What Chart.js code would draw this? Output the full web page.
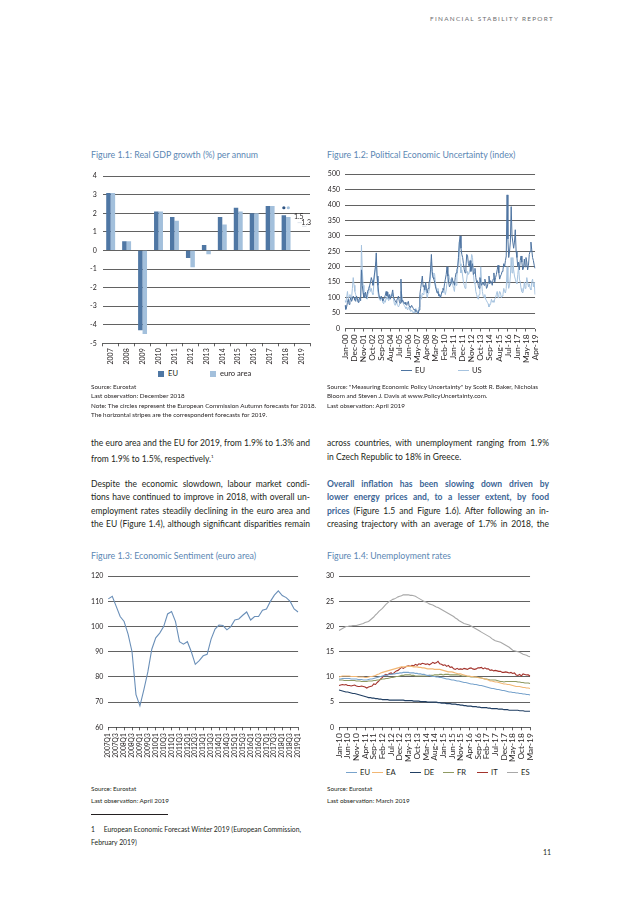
<!DOCTYPE html>
<html>
<head>
<meta charset="utf-8">
<title>Financial Stability Report - p. 11</title>
<script src="https://cdn.jsdelivr.net/npm/chart.js@4.4.1/dist/chart.umd.min.js"></script>
<style>
  html, body { margin: 0; padding: 0; background: #fff; }
  body { width: 638px; height: 903px; position: relative; overflow: hidden;
         font-family: Lato, 'Open Sans', sans-serif; color: #231f20; }
  .abs { position: absolute; white-space: nowrap; }
  .hdr { top: 15px; left: 400px; width: 154px; text-align: right; font-size: 6.4px; letter-spacing: 1.3px; color: #6d6e71; }
  .ttl { font-size: 8.8px; line-height: 12px; color: #5b87b4; }
  .src { font-size: 6.3px; line-height: 9.5px; }
  .ln { position: absolute; font-size: 8.5px; line-height: 10px; height: 10px; text-align: justify; text-align-last: justify; white-space: normal; overflow: visible; }
  .ln.last { text-align-last: left; }
  .blue { color: #3b6596; font-weight: 700; }
  .chart { position: absolute; }
  .leg { position: absolute; font-size: 7.6px; line-height: 10px; height: 10px; white-space: nowrap; }
  .sw { display: inline-block; vertical-align: middle; margin-right: 4px; }
  .sw.box { width: 6px; height: 6px; }
  .sw.line { width: 11px; height: 0; border-top: 1.4px solid; margin-top: -1px; margin-right: 3px; }
  .rule { position: absolute; left: 91px; top: 814px; width: 77px; border-top: 0.8px solid #231f20; }
</style>
</head>
<body>

<div class="abs hdr">FINANCIAL STABILITY REPORT</div>

<!-- figure titles -->
<div class="abs ttl" style="left:91px;top:149px;">Figure 1.1: Real GDP growth (%) per annum</div>
<div class="abs ttl" style="left:327px;top:149px;">Figure 1.2: Political Economic Uncertainty (index)</div>
<div class="abs ttl" style="left:91px;top:550px;">Figure 1.3: Economic Sentiment (euro area)</div>
<div class="abs ttl" style="left:327px;top:550px;">Figure 1.4: Unemployment rates</div>

<div class="chart" style="left:80px;top:166px;width:234px;height:200px;"><canvas id="gdpChart"></canvas></div>
<div class="chart" style="left:326px;top:165px;width:222px;height:200px;"><canvas id="epuChart"></canvas></div>
<div class="chart" style="left:84px;top:567px;width:225px;height:195px;"><canvas id="esiChart"></canvas></div>
<div class="chart" style="left:324px;top:567px;width:219px;height:195px;"><canvas id="unempChart"></canvas></div>

<!-- legends -->
<div class="leg" style="left:158px;top:368px;"><span class="sw box" style="background:#4f77a4"></span>EU</div>
<div class="leg" style="left:210px;top:368px;"><span class="sw box" style="background:#a3c0dc"></span>euro area</div>

<div class="leg" style="left:401px;top:365px;"><span class="sw line" style="border-color:#4e74a1"></span>EU</div>
<div class="leg" style="left:458px;top:365px;"><span class="sw line" style="border-color:#a6c3df"></span>US</div>

<div id="unempLegend"></div>

<!-- sources -->
<div class="abs src" style="left:91px;top:381.5px;">Source: Eurostat<br>Last observation: December 2018<br>Note: The circles represent the European Commission Autumn forecasts for 2018.<br>The horizontal stripes are the correspondent forecasts for 2019.</div>
<div class="abs src" style="left:327px;top:381.5px;">Source: "Measuring Economic Policy Uncertainty" by Scott R. Baker, Nicholas<br>Bloom and Steven J. Davis at www.PolicyUncertainty.com.<br>Last observation: April 2019</div>

<!-- body text, left column -->
<div class="ln" style="left:91px;top:438px;width:219px;">the euro area and the EU for 2019, from 1.9% to 1.3% and</div>
<div class="ln last" style="left:91px;top:451.5px;width:219px;">from 1.9% to 1.5%, respectively.<sup style="font-size:4.5px">1</sup></div>
<div class="ln" style="left:91px;top:478.5px;width:219px;">Despite the economic slowdown, labour market condi-</div>
<div class="ln" style="left:91px;top:492px;width:219px;">tions have continued to improve in 2018, with overall un-</div>
<div class="ln" style="left:91px;top:505.5px;width:219px;">employment rates steadily declining in the euro area and</div>
<div class="ln" style="left:91px;top:519px;width:219px;">the EU (Figure 1.4), although significant disparities remain</div>

<!-- body text, right column -->
<div class="ln" style="left:327px;top:438px;width:222px;">across countries, with unemployment ranging from 1.9%</div>
<div class="ln last" style="left:327px;top:451.5px;width:222px;">in Czech Republic to 18% in Greece.</div>
<div class="ln blue" style="left:327px;top:478.5px;width:222px;">Overall inflation has been slowing down driven by</div>
<div class="ln blue" style="left:327px;top:492px;width:222px;">lower energy prices and, to a lesser extent, by food</div>
<div class="ln" style="left:327px;top:505.5px;width:222px;"><span class="blue">prices</span> (Figure 1.5 and Figure 1.6). After following an in-</div>
<div class="ln" style="left:327px;top:519px;width:222px;">creasing trajectory with an average of 1.7% in 2018, the</div>

<div class="abs src" style="left:91px;top:783px;line-height:12px;">Source: Eurostat<br>Last observation: April 2019</div>
<div class="abs src" style="left:327px;top:783px;line-height:12px;">Source: Eurostat<br>Last observation: March 2019</div>

<div class="rule"></div>
<div class="abs" style="left:91px;top:823px;font-size:6.8px;line-height:12.5px;">1&nbsp;&nbsp;&nbsp;&nbsp;&nbsp;European Economic Forecast Winter 2019 (European Commission,<br>February 2019)</div>

<div class="abs" style="left:543px;top:848px;font-size:7px;">11</div>

<script>
// ---------- Figure 1.1: real GDP growth ----------
const gdpYears = ['2007', '2008', '2009', '2010', '2011', '2012', '2013', '2014', '2015', '2016', '2017', '2018', '2019'];
const gdpEU = [3.1, 0.5, -4.3, 2.1, 1.8, -0.4, 0.3, 1.8, 2.3, 2.0, 2.4, 1.9, null];
const gdpEA = [3.1, 0.5, -4.5, 2.1, 1.6, -0.9, -0.2, 1.4, 2.1, 2.0, 2.4, 1.8, null];
// Commission forecasts: circles for 2018, horizontal stripes for 2019
const forecastYears = ['2018', '2019'];
const forecastEU = [2.3, 1.5];
const forecastEA = [2.3, 1.3];
const gdpTicks = [4, 3, 2, 1, 0, -1, -2, -3, -4, -5];

// ---------- Figure 1.2: economic policy uncertainty, Jan-00 .. Apr-19 ----------
const epuEU = [
  75, 62, 70, 85, 95, 78, 90, 100, 88, 95, 105, 100,
  92, 88, 105, 98, 85, 95, 100, 90, 190, 140, 115, 100,
  105, 118, 98, 112, 125, 130, 140, 150, 165, 155, 140, 160,
  180, 200, 245, 170, 140, 115, 100, 95, 105, 98, 90, 95,
  100, 108, 120, 105, 118, 98, 110, 95, 105, 112, 125, 100,
  95, 90, 85, 92, 98, 105, 88, 82, 160, 85, 92, 88,
  80, 85, 78, 75, 82, 88, 72, 70, 68, 75, 70, 65,
  60, 62, 55, 58, 50, 48, 60, 110, 130, 150, 170, 135,
  140, 125, 150, 130, 115, 130, 145, 160, 190, 240, 185, 165,
  160, 150, 135, 125, 115, 120, 105, 110, 100, 110, 120, 130,
  125, 145, 160, 175, 200, 170, 150, 135, 140, 150, 165, 155,
  150, 140, 165, 180, 190, 200, 230, 280, 300, 260, 240, 230,
  210, 190, 180, 200, 240, 235, 210, 200, 220, 185, 200, 210,
  175, 180, 195, 165, 150, 155, 140, 130, 165, 150, 140, 145,
  150, 140, 160, 150, 130, 135, 150, 170, 145, 155, 150, 140,
  160, 180, 150, 165, 175, 190, 205, 180, 160, 170, 175, 185,
  190, 210, 200, 220, 235, 433, 290, 230, 250, 280, 395, 300,
  300, 260, 280, 320, 250, 230, 200, 215, 190, 220, 235, 215,
  190, 195, 225, 200, 230, 215, 190, 205, 240, 250, 280, 255,
  230, 220, 205, 195
];
const epuUS = [
  90, 85, 100, 120, 95, 105, 110, 95, 100, 130, 165, 140,
  120, 110, 100, 95, 85, 90, 100, 105, 270, 190, 140, 115,
  110, 105, 100, 95, 115, 130, 140, 120, 130, 115, 110, 140,
  170, 200, 215, 160, 120, 100, 95, 90, 100, 95, 85, 80,
  90, 85, 100, 95, 105, 90, 95, 100, 110, 105, 115, 95,
  80, 75, 85, 80, 75, 70, 75, 90, 120, 110, 90, 80,
  75, 70, 65, 70, 60, 65, 70, 60, 55, 60, 55, 50,
  55, 50, 65, 60, 55, 52, 70, 100, 110, 95, 115, 110,
  130, 120, 140, 110, 100, 115, 120, 135, 170, 215, 175, 165,
  180, 175, 145, 130, 120, 130, 115, 105, 100, 110, 120, 115,
  130, 120, 110, 125, 150, 160, 175, 165, 150, 160, 145, 140,
  130, 120, 150, 140, 170, 190, 240, 280, 210, 180, 190, 170,
  150, 140, 130, 145, 160, 185, 175, 180, 200, 215, 240, 230,
  180, 150, 145, 120, 110, 100, 95, 110, 140, 200, 150, 120,
  105, 100, 110, 95, 90, 85, 80, 70, 75, 80, 95, 85,
  90, 85, 95, 100, 110, 120, 100, 110, 120, 115, 100, 105,
  110, 130, 120, 115, 130, 200, 150, 130, 140, 170, 230, 180,
  230, 190, 170, 160, 150, 145, 175, 200, 160, 150, 130, 120,
  115, 125, 150, 130, 140, 165, 150, 135, 145, 130, 125, 150,
  160, 135, 150, 110
];

// ---------- Figure 1.3: economic sentiment, 2007Q1 .. 2019Q1 ----------
const esiValues = [
  111, 112, 108, 104, 102, 97, 90, 73, 68.5, 75, 82, 91, 95.5,
  97.4, 100, 105, 106, 102, 94, 93, 94, 90, 85, 86.5, 88.4,
  89, 95, 99, 100.6, 100.4, 98.7, 100, 102.6, 103, 104.5, 105.8,
  102.6, 104, 104, 106.5, 107, 110, 112.5, 114.2, 112.3, 111.5, 110, 107, 105.8
];

// ---------- Figure 1.4: unemployment rates, Jan-10 .. Mar-19 ----------
const unEU = [
  9.6, 9.6, 9.7, 9.7, 9.7, 9.7, 9.7, 9.6, 9.6, 9.6, 9.6, 9.5,
  9.5, 9.5, 9.4, 9.4, 9.4, 9.5, 9.6, 9.6, 9.7, 9.8, 9.9, 10.0,
  10.1, 10.2, 10.3, 10.3, 10.4, 10.5, 10.5, 10.6, 10.6, 10.7, 10.7, 10.8,
  10.8, 10.9, 10.9, 10.9, 10.9, 10.8, 10.8, 10.8, 10.7, 10.7, 10.6, 10.6,
  10.5, 10.5, 10.4, 10.3, 10.3, 10.2, 10.1, 10.1, 10.0, 10.0, 9.9, 9.9,
  9.8, 9.7, 9.6, 9.6, 9.5, 9.4, 9.4, 9.3, 9.2, 9.2, 9.1, 9.0,
  8.9, 8.9, 8.8, 8.7, 8.6, 8.6, 8.5, 8.5, 8.4, 8.3, 8.3, 8.2,
  8.1, 8.0, 7.9, 7.8, 7.7, 7.7, 7.6, 7.5, 7.5, 7.4, 7.3, 7.3,
  7.2, 7.1, 7.0, 7.0, 6.9, 6.9, 6.8, 6.8, 6.7, 6.7, 6.6, 6.6,
  6.5, 6.5, 6.4
];
const unEA = [
  10.0, 10.1, 10.2, 10.2, 10.2, 10.2, 10.2, 10.1, 10.1, 10.1, 10.1, 10.0,
  10.0, 10.0, 10.0, 9.9, 9.9, 10.0, 10.1, 10.1, 10.2, 10.3, 10.5, 10.6,
  10.8, 10.9, 11.0, 11.1, 11.2, 11.3, 11.4, 11.5, 11.6, 11.7, 11.8, 11.9,
  12.0, 12.0, 12.0, 12.1, 12.1, 12.1, 12.1, 12.0, 12.0, 12.0, 11.9, 11.9,
  11.8, 11.8, 11.7, 11.6, 11.6, 11.6, 11.6, 11.5, 11.5, 11.5, 11.5, 11.4,
  11.3, 11.2, 11.1, 11.0, 11.0, 11.0, 10.9, 10.8, 10.7, 10.6, 10.6, 10.5,
  10.4, 10.3, 10.2, 10.2, 10.1, 10.1, 10.0, 10.0, 9.9, 9.8, 9.8, 9.7,
  9.6, 9.5, 9.4, 9.2, 9.2, 9.1, 9.0, 9.0, 8.9, 8.8, 8.7, 8.6,
  8.6, 8.5, 8.5, 8.4, 8.3, 8.2, 8.1, 8.1, 8.1, 8.0, 7.9, 7.9,
  7.8, 7.8, 7.7
];
const unDE = [
  7.4, 7.3, 7.2, 7.1, 7.0, 7.0, 6.9, 6.8, 6.7, 6.7, 6.6, 6.5,
  6.4, 6.3, 6.2, 6.1, 6.0, 5.9, 5.9, 5.8, 5.8, 5.7, 5.7, 5.6,
  5.6, 5.5, 5.5, 5.5, 5.5, 5.4, 5.4, 5.4, 5.4, 5.4, 5.4, 5.4,
  5.4, 5.4, 5.3, 5.3, 5.3, 5.3, 5.3, 5.2, 5.2, 5.2, 5.2, 5.1,
  5.1, 5.1, 5.1, 5.0, 5.0, 5.0, 5.0, 5.0, 5.0, 4.9, 4.9, 4.8,
  4.8, 4.8, 4.7, 4.7, 4.7, 4.6, 4.6, 4.6, 4.5, 4.5, 4.4, 4.4,
  4.3, 4.3, 4.2, 4.2, 4.2, 4.1, 4.1, 4.1, 4.0, 4.0, 3.9, 3.9,
  3.9, 3.9, 3.8, 3.8, 3.7, 3.7, 3.7, 3.7, 3.6, 3.6, 3.6, 3.5,
  3.5, 3.5, 3.4, 3.4, 3.4, 3.4, 3.4, 3.4, 3.3, 3.3, 3.3, 3.2,
  3.2, 3.2, 3.2
];
const unFR = [
  9.4, 9.4, 9.4, 9.3, 9.3, 9.3, 9.3, 9.3, 9.3, 9.3, 9.2, 9.2,
  9.2, 9.1, 9.1, 9.1, 9.1, 9.2, 9.2, 9.2, 9.3, 9.3, 9.4, 9.4,
  9.5, 9.6, 9.6, 9.7, 9.7, 9.8, 9.9, 9.9, 10.0, 10.1, 10.1, 10.2,
  10.3, 10.3, 10.4, 10.4, 10.4, 10.4, 10.3, 10.3, 10.2, 10.2, 10.2, 10.2,
  10.2, 10.2, 10.2, 10.2, 10.3, 10.3, 10.3, 10.4, 10.4, 10.4, 10.5, 10.5,
  10.4, 10.5, 10.5, 10.5, 10.4, 10.4, 10.4, 10.4, 10.4, 10.4, 10.3, 10.2,
  10.2, 10.2, 10.1, 10.1, 10.0, 10.0, 10.0, 10.0, 9.9, 9.9, 9.8, 9.7,
  9.6, 9.6, 9.5, 9.4, 9.4, 9.4, 9.4, 9.3, 9.2, 9.1, 9.1, 9.0,
  9.1, 9.1, 9.1, 9.1, 9.1, 9.1, 9.1, 9.0, 9.0, 8.9, 8.9, 8.8,
  8.8, 8.8, 8.7
];
const unIT = [
  8.3, 8.4, 8.5, 8.4, 8.5, 8.3, 8.3, 8.2, 8.3, 8.4, 8.2, 8.1,
  8.1, 8.2, 8.1, 8.0, 7.8, 8.0, 8.1, 8.2, 8.6, 8.5, 8.9, 9.2,
  9.6, 9.9, 10.3, 10.5, 10.4, 10.7, 10.8, 10.6, 10.9, 11.2, 11.3, 11.6,
  11.9, 11.7, 11.9, 12.1, 12.2, 12.1, 12.3, 12.2, 12.5, 12.3, 12.6, 12.5,
  12.7, 12.6, 12.5, 12.6, 12.4, 12.6, 12.9, 12.7, 12.8, 13.1, 12.6, 12.5,
  12.3, 12.4, 12.1, 12.3, 11.9, 12.0, 11.6, 11.5, 11.7, 11.5, 11.6, 11.5,
  11.7, 11.6, 11.5, 11.7, 11.8, 11.6, 11.5, 11.6, 11.8, 11.8, 11.9, 11.6,
  11.8, 11.6, 11.6, 11.3, 11.4, 11.2, 11.3, 11.2, 11.1, 11.1, 10.9, 10.9,
  11.0, 10.9, 10.8, 10.9, 10.7, 10.8, 10.4, 10.3, 10.5, 10.2, 10.6, 10.5,
  10.4, 10.4, 10.2
];
const unES = [
  19.2, 19.4, 19.6, 19.8, 20.0, 20.0, 20.1, 20.1, 20.2, 20.2, 20.2, 20.3,
  20.4, 20.5, 20.6, 20.8, 20.9, 21.0, 21.3, 21.6, 21.9, 22.3, 22.6, 23.0,
  23.3, 23.6, 24.0, 24.4, 24.7, 25.0, 25.2, 25.4, 25.5, 25.7, 25.9, 26.0,
  26.1, 26.3, 26.3, 26.3, 26.3, 26.2, 26.2, 26.1, 26.0, 25.8, 25.6, 25.4,
  25.2, 25.0, 24.9, 24.7, 24.5, 24.4, 24.3, 24.1, 23.9, 23.8, 23.6, 23.4,
  23.2, 23.0, 22.8, 22.6, 22.4, 22.2, 22.0, 21.7, 21.5, 21.2, 21.0, 20.8,
  20.6, 20.5, 20.4, 20.3, 20.1, 19.9, 19.7, 19.5, 19.3, 19.1, 18.9, 18.7,
  18.5, 18.3, 18.1, 17.9, 17.6, 17.4, 17.2, 17.1, 17.0, 16.9, 16.7, 16.5,
  16.3, 16.1, 15.9, 15.6, 15.3, 15.2, 15.1, 15.0, 14.9, 14.7, 14.5, 14.4,
  14.3, 14.1, 14.0
];
const unSeries = [
  { label: 'EU', data: unEU, color: '#78a3cc' },
  { label: 'EA', data: unEA, color: '#f2b774' },
  { label: 'DE', data: unDE, color: '#213f63' },
  { label: 'FR', data: unFR, color: '#8f9a62' },
  { label: 'IT', data: unIT, color: '#a3332c' },
  { label: 'ES', data: unES, color: '#a8a8a8' }
];

// category labels
const MONTHS = ['Jan', 'Feb', 'Mar', 'Apr', 'May', 'Jun', 'Jul', 'Aug', 'Sep', 'Oct', 'Nov', 'Dec'];
function monthLabels(startYear, count) {
  const out = [];
  for (let i = 0; i < count; i++) {
    const y = startYear + Math.floor(i / 12);
    out.push(MONTHS[i % 12] + '-' + String(y % 100).padStart(2, '0'));
  }
  return out;
}
function quarterLabels(startYear, count) {
  const out = [];
  for (let i = 0; i < count; i++) out.push((startYear + Math.floor(i / 4)) + 'Q' + (i % 4 + 1));
  return out;
}
const epuMonths = monthLabels(2000, epuEU.length);   // Jan-00 .. Apr-19
const esiQuarters = quarterLabels(2007, esiValues.length);
const unMonths = monthLabels(2010, unEU.length);     // Jan-10 .. Mar-19

Chart.defaults.font.family = 'Lato, "Open Sans", sans-serif';
Chart.defaults.color = '#231f20';
Chart.defaults.animation = false;
Chart.defaults.plugins.legend.display = false;
Chart.defaults.plugins.tooltip.enabled = false;

const GRID = '#3a3a3a';
const fixW = w => s => { s.width = w; };
const fixH = h => s => { s.height = h; };

function yAxis(min, max, step, width, size) {
  return {
    min, max,
    ticks: { stepSize: step, padding: 5, font: { size: size || 7 } },
    grid: { color: GRID, lineWidth: 0.8, drawTicks: false },
    border: { display: false },
    afterFit: fixW(width)
  };
}
function xAxis(height, every, size) {
  return {
    ticks: {
      autoSkip: false, minRotation: 90, maxRotation: 90, padding: 3,
      font: { size: size },
      callback: function (v, i) { return i % every === 0 ? this.getLabelForValue(v) : ''; }
    },
    grid: {
      drawOnChartArea: false, tickLength: 3, lineWidth: 0.8,
      color: c => (c.index % every === 0 ? GRID : 'rgba(0,0,0,0)')
    },
    border: { display: false },
    afterFit: fixH(height)
  };
}

// circles (2018) and stripes (2019) for the Commission forecasts
const gdpForecastMarks = {
  id: 'gdpForecastMarks',
  afterDatasetsDraw(chart) {
    const { ctx, scales: { x, y } } = chart;
    const eu0 = chart.getDatasetMeta(0).data[0];
    const ea0 = chart.getDatasetMeta(1).data[0];
    const dEU = eu0.x - x.getPixelForValue(0);
    const dEA = ea0.x - x.getPixelForValue(0);
    const half = eu0.width / 2;
    ctx.save();
    forecastYears.forEach((yr, i) => {
      const cx = x.getPixelForValue(gdpYears.indexOf(yr));
      const pts = [
        { px: cx + dEU, py: y.getPixelForValue(forecastEU[i]), col: '#2f5583', v: forecastEU[i], lx: -1, ly: -6 },
        { px: cx + dEA, py: y.getPixelForValue(forecastEA[i]), col: '#a3c0dc', v: forecastEA[i], lx: 2, ly: -4 }
      ];
      pts.forEach(p => {
        if (i === 0) {
          ctx.fillStyle = p.col;
          ctx.beginPath();
          ctx.arc(p.px, p.py, 1.6, 0, Math.PI * 2);
          ctx.fill();
        } else {
          ctx.strokeStyle = '#d5dde6';
          ctx.lineWidth = 0.8;
          ctx.beginPath();
          ctx.moveTo(p.px - half, p.py);
          ctx.lineTo(p.px + half, p.py);
          ctx.stroke();
          ctx.fillStyle = '#231f20';
          ctx.font = '7px Lato, sans-serif';
          ctx.textAlign = 'center';
          ctx.textBaseline = 'middle';
          ctx.fillText(p.v.toFixed(1), p.px + p.lx, p.py + p.ly);
        }
      });
    });
    ctx.restore();
  }
};

new Chart(document.getElementById('gdpChart'), {
  type: 'bar',
  data: {
    labels: gdpYears,
    datasets: [
      { label: 'EU', data: gdpEU, backgroundColor: '#4f77a4' },
      { label: 'euro area', data: gdpEA, backgroundColor: '#a3c0dc' }
    ]
  },
  options: {
    responsive: true, maintainAspectRatio: false,
    layout: { padding: { top: 6.3, right: 4 } },
    datasets: { bar: { categoryPercentage: 0.56, barPercentage: 1.0 } },
    scales: {
      x: Object.assign(xAxis(22.7, 1, 7), {
        grid: { drawOnChartArea: false, tickLength: 3, lineWidth: 0.8, color: GRID, offset: true },
        ticks: { autoSkip: false, minRotation: 90, maxRotation: 90, padding: 2, font: { size: 7 } }
      }),
      y: Object.assign(yAxis(-5, 4, 1, 22.7), {
        ticks: { padding: 6, font: { size: 7 }, callback: v => (gdpTicks.includes(v) ? v : '') }
      })
    }
  },
  plugins: [gdpForecastMarks]
});

new Chart(document.getElementById('epuChart'), {
  type: 'line',
  data: {
    labels: epuMonths,
    datasets: [
      { label: 'EU', data: epuEU, borderColor: '#4e74a1', borderWidth: 1, pointRadius: 0, tension: 0 },
      { label: 'US', data: epuUS, borderColor: '#a6c3df', borderWidth: 1, pointRadius: 0, tension: 0 }
    ]
  },
  options: {
    responsive: true, maintainAspectRatio: false,
    layout: { padding: { top: 6, right: 4.5 } },
    scales: { x: xAxis(36.5, 11, 8.3), y: yAxis(0, 500, 50, 19) }
  }
});

new Chart(document.getElementById('esiChart'), {
  type: 'line',
  data: {
    labels: esiQuarters,
    datasets: [
      { label: 'Economic sentiment', data: esiValues, borderColor: '#6a8fb8', borderWidth: 1.1, pointRadius: 0, tension: 0 }
    ]
  },
  options: {
    responsive: true, maintainAspectRatio: false,
    layout: { padding: { top: 6.3, right: 4 } },
    scales: { x: xAxis(34.7, 2, 6.6), y: yAxis(60, 120, 10, 24.3) }
  }
});

new Chart(document.getElementById('unempChart'), {
  type: 'line',
  data: {
    labels: unMonths,
    datasets: unSeries.map(s => ({
      label: s.label, data: s.data, borderColor: s.color, borderWidth: 1.1, pointRadius: 0, tension: 0
    }))
  },
  options: {
    responsive: true, maintainAspectRatio: false,
    layout: { padding: { top: 6.3, right: 4 } },
    scales: { x: xAxis(34.7, 5, 8.3), y: yAxis(0, 30, 5, 15) }
  }
});

// legend for figure 1.4
const legendX = [346, 372, 410, 443, 477, 507];
document.getElementById('unempLegend').innerHTML = unSeries.map((s, i) =>
  `<div class="leg" style="left:${legendX[i]}px;top:767px;"><span class="sw line" style="border-color:${s.color}"></span>${s.label}</div>`
).join('');
</script>
</body>
</html>
